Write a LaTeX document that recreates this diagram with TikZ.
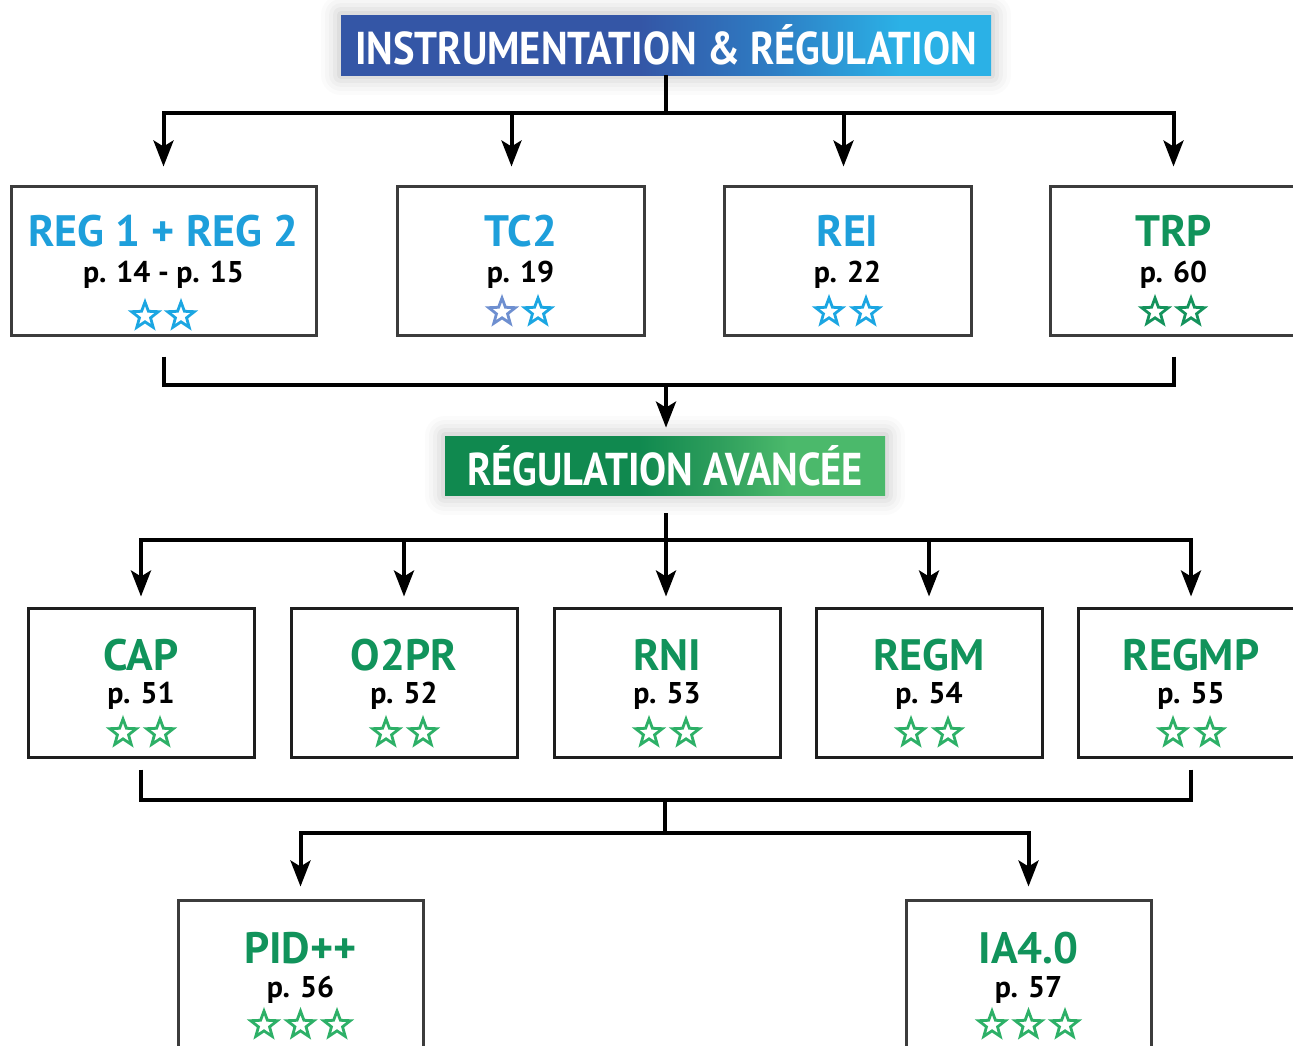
\documentclass[tikz,border=0pt]{standalone}
\usepackage{fontspec}
\newfontfamily\dinfont{PT Sans}
\newfontfamily\bannerfont{PT Sans}[FakeStretch=0.88]
\usetikzlibrary{
arrows.meta,
positioning,
shapes.geometric
}
\definecolor{instdark}{HTML}{3456A6}
\definecolor{instmid}{HTML}{2E7CC3}
\definecolor{instlight}{HTML}{2BB1E6}
\definecolor{advdark}{HTML}{10894F}
\definecolor{advmid}{HTML}{2E9E5C}
\definecolor{advlight}{HTML}{4BB96B}
\definecolor{titleblue}{HTML}{1E9FDB}
\definecolor{titlegreen}{HTML}{11935B}
\definecolor{starblue}{HTML}{1BA6E2}
\definecolor{starlilac}{HTML}{6E8FD0}
\definecolor{stardark}{HTML}{14935C}
\definecolor{stargreen}{HTML}{2DB067}
\definecolor{framegray}{HTML}{3C3C3C}
\definecolor{framedark}{HTML}{1E1E1E}
\pgfdeclarehorizontalshading{instshade}{100bp}{color(0bp)=(instdark); color(25bp)=(instdark); color(48bp)=(instdark); color(58bp)=(instmid); color(68bp)=(instlight); color(100bp)=(instlight)}
\pgfdeclarehorizontalshading{advshade}{100bp}{color(0bp)=(advdark); color(25bp)=(advdark); color(47bp)=(advdark); color(56bp)=(advmid); color(64bp)=(advlight); color(100bp)=(advlight)}
\tikzset{>={Stealth[length=13pt,width=10pt,inset=3pt]}}

\begin{document}
\begin{tikzpicture}[x=0.5pt, y=-0.5pt,
	glow/.style={
		preaction={draw=black, draw opacity=0.015, line width=20pt, line join=round},
		preaction={draw=black, draw opacity=0.02, line width=16pt, line join=round},
		preaction={draw=black, draw opacity=0.025, line width=12pt, line join=round},
		preaction={draw=black, draw opacity=0.03, line width=8pt, line join=round},
		preaction={draw=black, draw opacity=0.04, line width=4pt, line join=round}
	},
	banner/.style={glow, inner sep=0pt, text=white, font=\bannerfont\bfseries\fontsize{23}{23}\selectfont},
	box/.style={draw=framegray, line width=1.5pt, fill=white, minimum height=74.5pt, inner sep=0pt},
	boxtitle/.style={anchor=base, inner sep=0pt, font=\dinfont\bfseries\fontsize{22}{22}\selectfont},
	boxpage/.style={anchor=base, inner sep=0pt, font=\dinfont\bfseries\fontsize{15}{15}\selectfont},
	staricon/.style={star, star points=5, star point ratio=2.4, minimum size=14pt, inner sep=0pt, line width=1.4pt},
	conn/.style={line width=2pt},
	arr/.style={conn, ->}
	]
	\useasboundingbox (0,0) rectangle (1293,1045);
	\fill[white] (0,0) rectangle (1293,1045);

	\node[banner, shading=instshade, minimum width=325pt, minimum height=30pt] (inst) at (666,45) {INSTRUMENTATION \& RÉGULATION};

	\node[box, minimum width=152.5pt] (reg) at (163.5,260.5) {};
	\node[box, minimum width=123.5pt] (tc)  at (520.5,260.5) {};
	\node[box, minimum width=123.5pt] (rei) at (847.5,260.5) {};
	\node[box, minimum width=123.5pt] (trp) at (1173.5,260.5) {};

	\node[boxtitle, text=titleblue]  (regT) at (163.5,246) {REG 1 + REG 2};
	\node[boxpage]                   (regP) at (163.5,282) {p. 14 - p. 15};
	\node[staricon, draw=starblue]   (regS1) at (145,316) {};
	\node[staricon, draw=starblue]   (regS2) at (181,316) {};

	\node[boxtitle, text=titleblue]  (tcT) at (520.5,246) {TC2};
	\node[boxpage]                   (tcP) at (520.5,282) {p. 19};
	\node[staricon, draw=starlilac]  (tcS1) at (502,312) {};
	\node[staricon, draw=starblue]   (tcS2) at (538,312) {};

	\node[boxtitle, text=titleblue]  (reiT) at (847.5,246) {REI};
	\node[boxpage]                   (reiP) at (847.5,282) {p. 22};
	\node[staricon, draw=starblue]   (reiS1) at (829,312) {};
	\node[staricon, draw=starblue]   (reiS2) at (866,312) {};

	\node[boxtitle, text=titlegreen] (trpT) at (1173.5,246) {TRP};
	\node[boxpage]                   (trpP) at (1173.5,282) {p. 60};
	\node[staricon, draw=stardark]   (trpS1) at (1155,312) {};
	\node[staricon, draw=stardark]   (trpS2) at (1191,312) {};

	\node[banner, shading=advshade, minimum width=220pt, minimum height=29.5pt] (adv) at (665,465.5) {RÉGULATION AVANCÉE};

	\node[box, draw=framedark, minimum width=113pt] (cap)   at (141,682.5) {};
	\node[box, draw=framedark, minimum width=113pt] (opr)   at (404,682.5) {};
	\node[box, draw=framedark, minimum width=113pt] (rni)   at (667,682.5) {};
	\node[box, draw=framedark, minimum width=113pt] (regm)  at (929,682.5) {};
	\node[box, draw=framedark, minimum width=113pt] (regmp) at (1191,682.5) {};

	\node[boxtitle, text=titlegreen] (capT) at (141,670) {CAP};
	\node[boxpage]                   (capP) at (141,703) {p. 51};
	\node[staricon, draw=stargreen]  (capS1) at (123,733) {};
	\node[staricon, draw=stargreen]  (capS2) at (160,733) {};

	\node[boxtitle, text=titlegreen] (oprT) at (404,670) {O2PR};
	\node[boxpage]                   (oprP) at (404,703) {p. 52};
	\node[staricon, draw=stargreen]  (oprS1) at (386,733) {};
	\node[staricon, draw=stargreen]  (oprS2) at (423,733) {};

	\node[boxtitle, text=titlegreen] (rniT) at (667,670) {RNI};
	\node[boxpage]                   (rniP) at (667,703) {p. 53};
	\node[staricon, draw=stargreen]  (rniS1) at (649,733) {};
	\node[staricon, draw=stargreen]  (rniS2) at (686,733) {};

	\node[boxtitle, text=titlegreen] (regmT) at (929,670) {REGM};
	\node[boxpage]                   (regmP) at (929,703) {p. 54};
	\node[staricon, draw=stargreen]  (regmS1) at (911,733) {};
	\node[staricon, draw=stargreen]  (regmS2) at (948,733) {};

	\node[boxtitle, text=titlegreen] (regmpT) at (1191,670) {REGMP};
	\node[boxpage]                   (regmpP) at (1191,703) {p. 55};
	\node[staricon, draw=stargreen]  (regmpS1) at (1173,733) {};
	\node[staricon, draw=stargreen]  (regmpS2) at (1210,733) {};

	\node[box, minimum width=122.5pt] (pid) at (300.5,974.5) {};
	\node[box, minimum width=122.5pt] (ia)  at (1028.5,974.5) {};

	\node[boxtitle, text=titlegreen] (pidT) at (300.5,963) {PID++};
	\node[boxpage]                   (pidP) at (300.5,997) {p. 56};
	\node[staricon, draw=stargreen]  (pidS1) at (264,1025) {};
	\node[staricon, draw=stargreen]  (pidS2) at (300.5,1025) {};
	\node[staricon, draw=stargreen]  (pidS3) at (337,1025) {};

	\node[boxtitle, text=titlegreen] (iaT) at (1028.5,963) {IA4.0};
	\node[boxpage]                   (iaP) at (1028.5,997) {p. 57};
	\node[staricon, draw=stargreen]  (iaS1) at (992,1025) {};
	\node[staricon, draw=stargreen]  (iaS2) at (1028.5,1025) {};
	\node[staricon, draw=stargreen]  (iaS3) at (1065,1025) {};

	\coordinate (split1) at (666,113);
	\coordinate (join1)  at (666,385);
	\coordinate (split2) at (666,540);
	\coordinate (join2)  at (665,800);
	\coordinate (split3) at (665,833);

	\draw[conn] (inst.south) -- (split1);
	\draw[arr, shorten >=9pt] (split1) -| (reg.north);
	\draw[arr, shorten >=9pt] (split1) -| ([xshift=-4.5pt]tc.north);
	\draw[arr, shorten >=9pt] (split1) -| ([xshift=-2pt]rei.north);
	\draw[arr, shorten >=9pt] (split1) -| (trp.north);

	\draw[conn, shorten <=10pt] (reg.south) |- (join1);
	\draw[conn, shorten <=10pt] (trp.south) |- (join1);
	\draw[arr, shorten >=4pt] (join1) -- (join1 |- adv.north);

	\draw[conn, shorten <=9pt] (adv.south -| split2) -- (split2);
	\draw[arr, shorten >=5pt] (split2) -| (cap.north);
	\draw[arr, shorten >=5pt] (split2) -| (opr.north);
	\draw[arr, shorten >=5pt] (split2) -- (split2 |- rni.north);
	\draw[arr, shorten >=5pt] (split2) -| (regm.north);
	\draw[arr, shorten >=5pt] (split2) -| (regmp.north);

	\draw[conn, shorten <=5.5pt] (cap.south) |- (join2);
	\draw[conn, shorten <=5.5pt] (regmp.south) |- (join2);
	\draw[conn] (join2) -- (split3);
	\draw[arr, shorten >=6pt] (split3) -| (pid.north);
	\draw[arr, shorten >=6pt] (split3) -| (ia.north);
\end{tikzpicture}
\end{document}
